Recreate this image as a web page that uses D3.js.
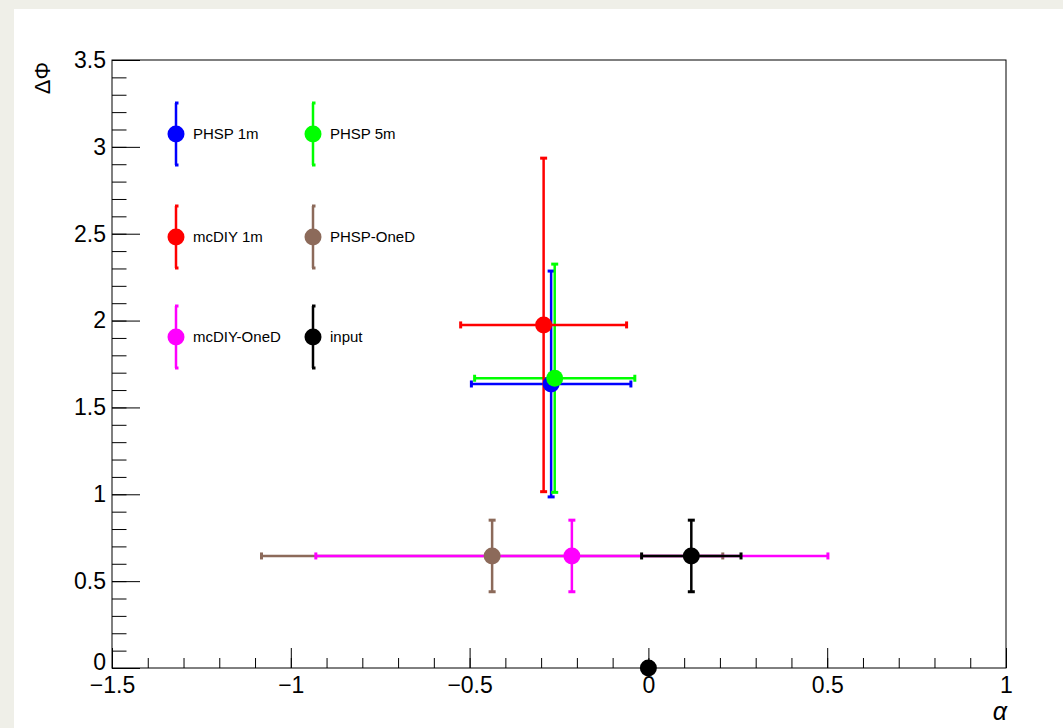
<!DOCTYPE html>
<html>
<head>
<meta charset="utf-8">
<script src="https://cdn.jsdelivr.net/npm/d3@7"></script>
<style>
  body { margin: 0; background: #efefe8; }
  svg { display: block; font-family: "Liberation Sans", Arial, sans-serif; }
</style>
</head>
<body>
<div id="chart"></div>
<script>
// series, in the order they are drawn / listed in the legend
var names   = ["PHSP 1m", "PHSP 5m", "mcDIY 1m", "PHSP-OneD", "mcDIY-OneD", "input"];
var colors  = ["#0000ff", "#00ff00", "#ff0000", "#8c6a5a", "#ff00ff", "#000000"];
var alphaX  = [-0.272, -0.262, -0.293, -0.437, -0.214, 0.120];
var alphaEx = [0.223, 0.224, 0.232, 0.645, 0.716, 0.139];
var dphiY   = [1.635, 1.668, 1.975, 0.645, 0.645, 0.645];
var dphiEy  = [0.650, 0.657, 0.960, 0.206, 0.206, 0.206];
// extra point without errors
var extraX = [0];
var extraY = [0];

var xTicks = [-1.5, -1, -0.5, 0, 0.5, 1];
var yTicks = [0, 0.5, 1, 1.5, 2, 2.5, 3, 3.5];

var W = 1063, H = 728;
var frame = {left: 112, top: 60, right: 1006, bottom: 668};

var svg = d3.select("#chart").append("svg")
    .attr("width", W).attr("height", H);

// white canvas
svg.append("rect")
    .attr("x", 14).attr("y", 9)
    .attr("width", W - 14).attr("height", H - 9)
    .attr("fill", "#ffffff");

var x = d3.scaleLinear().domain([-1.5, 1]).range([frame.left, frame.right]);
var y = d3.scaleLinear().domain([0, 3.5]).range([frame.bottom, frame.top]);
var fmt = d3.format("");

// minor ticks
svg.append("g")
    .attr("transform", "translate(0," + frame.bottom + ")")
    .call(d3.axisBottom(x).tickValues(d3.range(-1.5, 1.0001, 0.1)).tickSize(-10).tickFormat(""))
    .call(g => g.select(".domain").remove());
svg.append("g")
    .attr("transform", "translate(" + frame.left + ",0)")
    .call(d3.axisLeft(y).tickValues(d3.range(0, 3.5001, 0.1)).tickSize(-14.5).tickFormat(""))
    .call(g => g.select(".domain").remove());

// major ticks + labels
svg.append("g")
    .attr("transform", "translate(0," + frame.bottom + ")")
    .call(d3.axisBottom(x).tickValues(xTicks).tickSize(-20).tickPadding(9).tickFormat(fmt))
    .call(g => g.select(".domain").remove())
    .selectAll("text").style("font-size", "23px").attr("fill", "#000");
svg.append("g")
    .attr("transform", "translate(" + frame.left + ",0)")
    .call(d3.axisLeft(y).tickValues(yTicks).tickSize(-28).tickPadding(6).tickFormat(fmt))
    .call(g => g.select(".domain").remove())
    .selectAll("text").style("font-size", "23px").attr("fill", "#000")
    .attr("dy", d => d === 0 ? "0.05em" : "0.32em");

svg.selectAll(".tick line").attr("stroke", "#000").attr("stroke-width", 1);

// frame
svg.append("rect")
    .attr("x", frame.left).attr("y", frame.top)
    .attr("width", frame.right - frame.left)
    .attr("height", frame.bottom - frame.top)
    .attr("fill", "none").attr("stroke", "#000").attr("stroke-width", 1);

// axis titles
svg.append("text")
    .attr("x", frame.right + 1).attr("y", 720)
    .attr("text-anchor", "end")
    .style("font-size", "25px")
    .style("font-style", "italic")
    .text("α");
svg.append("text")
    .attr("transform", "translate(50,62) rotate(-90)")
    .attr("text-anchor", "end")
    .style("font-size", "22px")
    .text("ΔΦ");

var data = names.map(function(n, i) {
    return {name: n, color: colors[i], x: alphaX[i], ex: alphaEx[i], y: dphiY[i], ey: dphiEy[i]};
});

var cap = 3.5, R = 8.5;

// error bars
var bars = svg.append("g").selectAll("g").data(data).enter().append("g")
    .attr("stroke", d => d.color).attr("stroke-width", 2.5);
bars.append("line")
    .attr("x1", d => x(d.x - d.ex)).attr("x2", d => x(d.x + d.ex))
    .attr("y1", d => y(d.y)).attr("y2", d => y(d.y));
bars.append("line")
    .attr("x1", d => x(d.x)).attr("x2", d => x(d.x))
    .attr("y1", d => y(d.y - d.ey)).attr("y2", d => y(d.y + d.ey));
[-1, 1].forEach(function(s) {
    bars.append("line")
        .attr("stroke-width", 3)
        .attr("x1", d => x(d.x + s * d.ex)).attr("x2", d => x(d.x + s * d.ex))
        .attr("y1", d => y(d.y) - cap).attr("y2", d => y(d.y) + cap);
    bars.append("line")
        .attr("stroke-width", 3)
        .attr("x1", d => x(d.x) - cap).attr("x2", d => x(d.x) + cap)
        .attr("y1", d => y(d.y + s * d.ey)).attr("y2", d => y(d.y + s * d.ey));
});

// markers
svg.append("g").selectAll("circle").data(data).enter().append("circle")
    .attr("cx", d => x(d.x)).attr("cy", d => y(d.y))
    .attr("r", R).attr("fill", d => d.color);
svg.append("g").selectAll("circle").data(extraX).enter().append("circle")
    .attr("cx", (d, i) => x(d)).attr("cy", (d, i) => y(extraY[i]))
    .attr("r", R).attr("fill", "#000");

// legend: two columns, three rows
var legX = [176, 313], legY = [134, 237, 337], legHalf = 31;
var leg = svg.append("g").selectAll("g").data(data).enter().append("g")
    .attr("transform", (d, i) => "translate(" + legX[i % 2] + "," + legY[Math.floor(i / 2)] + ")");
leg.append("line")
    .attr("y1", -legHalf).attr("y2", legHalf)
    .attr("stroke", d => d.color).attr("stroke-width", 2.5);
leg.append("line").attr("x1", -1).attr("x2", 2.5).attr("y1", -legHalf).attr("y2", -legHalf)
    .attr("stroke", d => d.color).attr("stroke-width", 3);
leg.append("line").attr("x1", -1).attr("x2", 2.5).attr("y1", legHalf).attr("y2", legHalf)
    .attr("stroke", d => d.color).attr("stroke-width", 3);
leg.append("circle").attr("r", R).attr("fill", d => d.color);
leg.append("text")
    .attr("x", 17).attr("dy", "0.35em")
    .style("font-size", "15px")
    .text(d => d.name);
</script>
</body>
</html>
